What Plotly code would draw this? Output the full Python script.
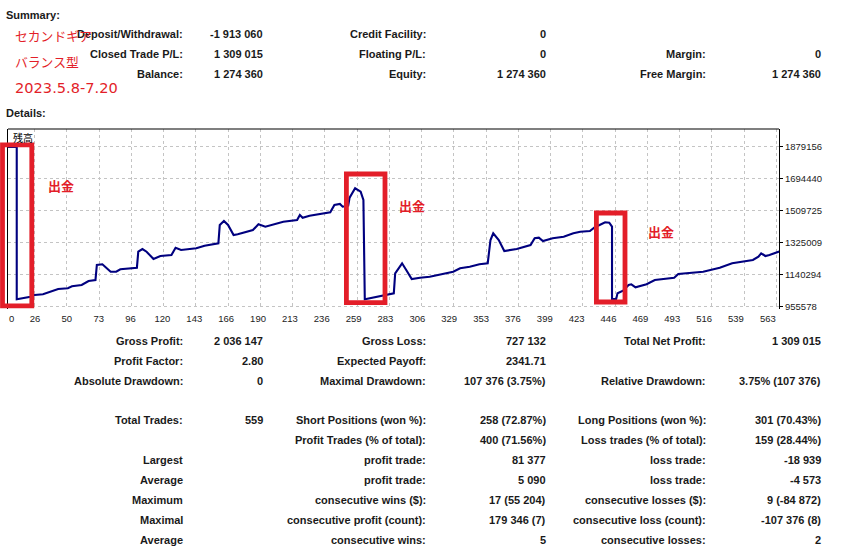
import plotly.graph_objects as go

# ---------------- data ----------------
trade_no = [0, 13, 13, 14, 23, 26, 32, 43, 50, 53, 60, 65, 70, 71, 75, 81, 85, 88, 100, 101,
            104, 107, 112, 117, 125, 128, 132, 143, 149, 159, 160, 163, 166, 170, 173, 184, 188,
            193, 206, 216, 218, 220, 225, 240, 243, 247, 249, 253, 254, 258, 262, 264, 265, 266,
            277, 286, 287, 292, 295, 299, 305, 312, 329, 334, 341, 348, 354, 356, 358, 362, 366,
            375, 385, 388, 391, 394, 401, 409, 416, 421, 428, 432, 435, 439, 442, 444, 444, 447,
            448, 452, 456, 458, 461, 469, 475, 489, 492, 510, 522, 531, 546, 550, 552, 555, 558,
            562, 565]
balance = [1878405, 1878405, 998300, 1000000, 1013300, 1023100, 1027200, 1057700, 1061800,
           1073300, 1080800, 1103900, 1109700, 1196300, 1200300, 1157600, 1157600, 1171500,
           1180700, 1273100, 1288600, 1273100, 1230900, 1248200, 1254000, 1296100, 1282900,
           1292700, 1307700, 1321500, 1427200, 1450300, 1427200, 1369500, 1373500, 1398300,
           1431200, 1417400, 1446200, 1456000, 1484900, 1469300, 1480900, 1500500, 1542600,
           1548400, 1532800, 1538600, 1584800, 1639000, 1619400, 1571500, 998300, 1000000,
           1017300, 1032900, 1148400, 1206100, 1167400, 1115500, 1123000, 1128700, 1157600,
           1177200, 1186500, 1200300, 1206100, 1340600, 1379300, 1340600, 1277100, 1288600,
           1311700, 1350400, 1353900, 1334800, 1350400, 1359600, 1379300, 1388500, 1392500,
           1417400, 1427200, 1442800, 1440500, 1417400, 1000000, 1000000, 1032900, 1047900,
           1080800, 1084900, 1067600, 1084900, 1109700, 1123000, 1144300, 1157600, 1180700,
           1206100, 1225100, 1244200, 1263800, 1248200, 1254000, 1263800, 1274360]

y_ticks = [955578, 1140294, 1325009, 1509725, 1694440, 1879156]
x_labels = ["0", "26", "50", "73", "96", "120", "143", "166", "190", "213", "236", "259", "283",
            "306", "329", "353", "376", "399", "423", "446", "469", "493", "516", "539", "563"]

summary_rows = [
    ["Deposit/Withdrawal:", "-1 913 060", "Credit Facility:", "0", "", ""],
    ["Closed Trade P/L:", "1 309 015", "Floating P/L:", "0", "Margin:", "0"],
    ["Balance:", "1 274 360", "Equity:", "1 274 360", "Free Margin:", "1 274 360"],
]
details_rows = [
    ["Gross Profit:", "2 036 147", "Gross Loss:", "727 132", "Total Net Profit:", "1 309 015"],
    ["Profit Factor:", "2.80", "Expected Payoff:", "2341.71", "", ""],
    ["Absolute Drawdown:", "0", "Maximal Drawdown:", "107 376 (3.75%)", "Relative Drawdown:", "3.75% (107 376)"],
    ["Total Trades:", "559", "Short Positions (won %):", "258 (72.87%)", "Long Positions (won %):", "301 (70.43%)"],
    ["", "", "Profit Trades (% of total):", "400 (71.56%)", "Loss trades (% of total):", "159 (28.44%)"],
    ["Largest", "", "profit trade:", "81 377", "loss trade:", "-18 939"],
    ["Average", "", "profit trade:", "5 090", "loss trade:", "-4 573"],
    ["Maximum", "", "consecutive wins ($):", "17 (55 204)", "consecutive losses ($):", "9 (-84 872)"],
    ["Maximal", "", "consecutive profit (count):", "179 346 (7)", "consecutive loss (count):", "-107 376 (8)"],
    ["Average", "", "consecutive wins:", "5", "consecutive losses:", "2"],
]
memo_lines = ["セカンドギア", "バランス型", "2023.5.8-7.20"]
marker_text = "出金"
chart_label = "残高"

# ---------------- layout helpers ----------------
W, H = 842, 550
L, R, T, B = 8, 779, 129, 309
def px(x):
    return (x - L) / (R - L)
def py(y):
    return (B - y) / (B - T)

RED = "#e31e29"
TXT = "#1a1a1a"
FONT = "Liberation Sans"

fig = go.Figure()
fig.add_trace(go.Scatter(x=trade_no, y=balance, mode="lines",
                         line=dict(color="#00007f", width=2.1), hoverinfo="skip",
                         showlegend=False))
# invisible trace on label axis
fig.add_trace(go.Scatter(x=[trade_no[0]], y=[balance[0]], xaxis="x2", mode="markers",
                         marker=dict(opacity=0), showlegend=False, hoverinfo="skip"))

x_range = [6.67, 564.9]
grid_vals = [26 + 23.35 * k for k in range(24)]
label_vals = [9.35] + [26.2 + 23.07 * k for k in range(24)]

annotations = []
def text(x, y, s, anchor="right", size=11, color=TXT, bold=True, family=FONT):
    annotations.append(dict(x=px(x), y=py(y), xref="paper", yref="paper", text=s,
                            showarrow=False, xanchor=anchor, yanchor="middle",
                            font=dict(family=family, size=size, color=color,
                                      weight="bold" if bold else "normal")))

text(4, 15, "Summary:", anchor="left")
text(4, 113, "Details:", anchor="left")
cols = [185, 265, 428, 548, 708, 823]
for i, row in enumerate(summary_rows):
    y = 34 + 20 * i
    for j, s in enumerate(row):
        if s:
            text(cols[j], y, s)
det_y = [340.5, 360.5, 380.5, 419.5, 439.5, 459.5, 479.5, 499.5, 519.5, 539.5]
for row, y in zip(details_rows, det_y):
    for j, s in enumerate(row):
        if s:
            text(cols[j], y, s)

# red memo text
text(13, 35, memo_lines[0], anchor="left", size=12.8, color=RED, bold=False, family="Noto Sans CJK JP")
text(13, 61, memo_lines[1], anchor="left", size=12.8, color=RED, bold=False, family="Noto Sans CJK JP")
text(13, 88, memo_lines[2], anchor="left", size=14.6, color=RED, bold=False, family="DejaVu Sans")
# withdrawal markers
for (x, y) in [(61, 185.5), (411.5, 205), (661, 231.5)]:
    text(x, y, marker_text, anchor="center", size=13, color=RED, bold=True, family="Noto Sans CJK JP")
text(11, 137.5, chart_label, anchor="left", size=10, color="#000", bold=False, family="Noto Sans CJK JP")

shapes = [
    dict(type="line", xref="paper", yref="paper", x0=0, x1=1, y0=1, y1=1,
         line=dict(color="#000", width=1.2)),
]
for (x0, x1, y0, y1) in [(2.5, 31.8, 144.8, 305.8), (346.4, 385.0, 174.0, 302.7),
                         (596.4, 625.0, 213.0, 302.0)]:
    shapes.append(dict(type="rect", xref="paper", yref="paper",
                       x0=px(x0), x1=px(x1), y0=py(y1), y1=py(y0),
                       line=dict(color=RED, width=4.8), fillcolor="rgba(0,0,0,0)"))

fig.update_layout(
    width=W, height=H,
    margin=dict(l=L, r=W - R, t=T, b=H - B, pad=0),
    paper_bgcolor="white", plot_bgcolor="white",
    showlegend=False,
    xaxis=dict(range=x_range, tickvals=grid_vals, showticklabels=False, ticks="",
               showgrid=True, gridcolor="#c4c4c4", griddash="3px,3px", gridwidth=1,
               zeroline=False, showline=False, fixedrange=True),
    xaxis2=dict(range=x_range, overlaying="x", side="bottom", anchor="y",
                tickvals=label_vals, ticktext=x_labels, showgrid=False, zeroline=False,
                showline=False, ticks="", tickfont=dict(family=FONT, size=9.5, color="#222"),
                ticklabelstandoff=2),
    yaxis=dict(range=[942300, 1981300], side="right", tickvals=y_ticks,
               ticktext=[str(v) for v in y_ticks], showgrid=True, gridcolor="#c4c4c4",
               griddash="3px,3px", gridwidth=1, zeroline=False, showline=True,
               linecolor="#000", linewidth=1.2, mirror=True, ticks="outside", ticklen=3,
               tickcolor="#000", tickfont=dict(family=FONT, size=9.5, color="#222")),
    annotations=annotations,
    shapes=shapes,
)
fig.write_html("out.html", config={"displayModeBar": False},
               post_script="document.body.style.margin='0px';document.body.style.overflow='hidden';")
